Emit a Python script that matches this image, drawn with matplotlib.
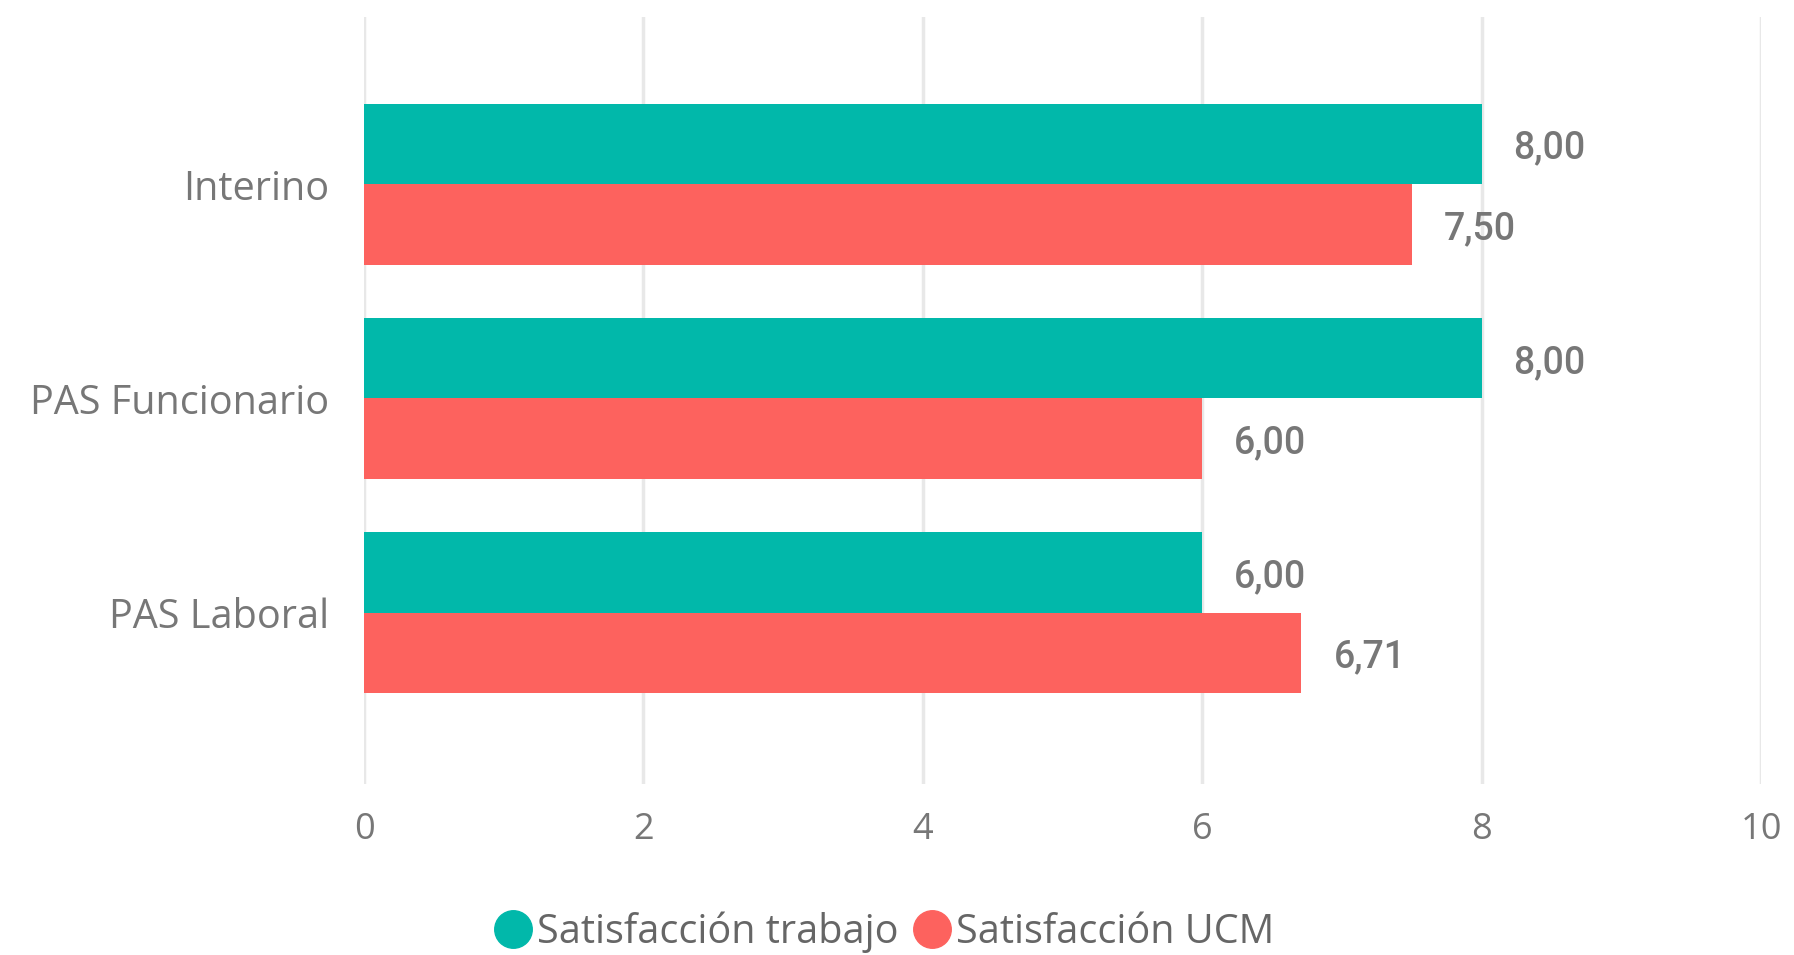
import matplotlib
matplotlib.use("Agg")
import matplotlib.pyplot as plt
import numpy as np
from matplotlib.lines import Line2D

categories = ["Interino", "PAS Funcionario", "PAS Laboral"]
series_names = ["Satisfacción trabajo", "Satisfacción UCM"]
trabajo = [8.00, 8.00, 6.00]
ucm = [7.50, 6.00, 6.71]
x_ticks = [0, 2, 4, 6, 8, 10]

colors = ["#01B8AA", "#FD625E"]
text_color = "#777777"

fig = plt.figure(figsize=(17.94, 9.55), dpi=100)
ax = fig.add_axes([0.2029, 0.179, 0.9816 - 0.2029, 0.982 - 0.179])

y = np.arange(len(categories))
h = 0.375
b1 = ax.barh(y - h / 2, trabajo, height=h, color=colors[0], zorder=3)
b2 = ax.barh(y + h / 2, ucm, height=h, color=colors[1], zorder=3)

for bars, vals in ((b1, trabajo), (b2, ucm)):
    for bar, v in zip(bars, vals):
        ax.annotate(f"{v:.2f}".replace(".", ","),
                    xy=(v, bar.get_y() + bar.get_height() / 2),
                    xytext=(32, -4), textcoords="offset pixels",
                    va="center", ha="left", fontsize=27, color=text_color,
                    family="Roboto", fontweight="medium")

ax.set_xlim(0, 10)
ax.set_ylim(2.8, -0.78)
ax.set_xticks(x_ticks)
ax.set_xticklabels([str(t) for t in x_ticks], family="Open Sans", fontsize=26, color=text_color)
ax.set_yticks(y)
ax.set_yticklabels(categories, family="Open Sans", fontsize=28.5, color=text_color)
ax.tick_params(axis="both", length=0)
ax.tick_params(axis="y", pad=25)
ax.tick_params(axis="x", pad=20)
ax.grid(axis="x", color="#E8E8E8", linewidth=2.5, zorder=0)
for s in ax.spines.values():
    s.set_visible(False)

handles = [Line2D([0], [0], marker="o", linestyle="", markersize=27,
                  markerfacecolor=c, markeredgecolor=c) for c in colors]
fig.legend(handles, series_names, loc="center", bbox_to_anchor=(0.493, 0.024),
           ncol=2, frameon=False, handletextpad=0.15, columnspacing=0.4,
           handlelength=0.9, prop={"family": "Open Sans", "size": 28.5},
           labelcolor="#666666")

fig.savefig("out.png", dpi=100)
